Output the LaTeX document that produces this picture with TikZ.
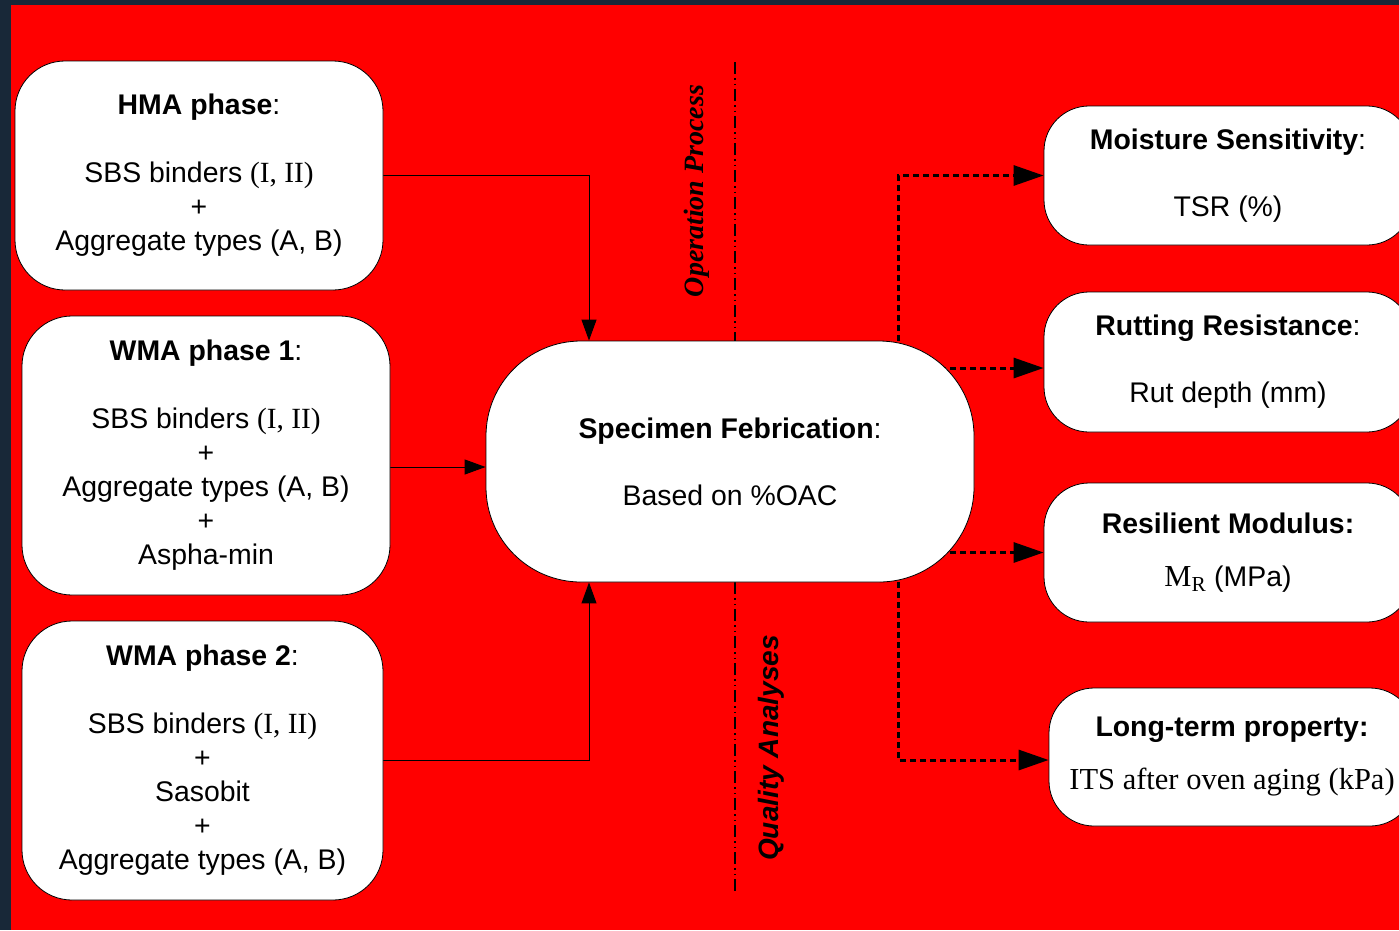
\documentclass[tikz,border=0pt]{standalone}
\usepackage{fontspec}
\setmainfont{Liberation Serif}
\setsansfont{Liberation Sans}
\usetikzlibrary{arrows.meta}
\pgfdeclarelayer{bg}
\pgfdeclarelayer{conn}
\pgfsetlayers{bg,conn,main}
\definecolor{navy}{RGB}{24,40,56}
\definecolor{bgred}{RGB}{255,0,0}
\newcommand{\srf}[1]{{\rmfamily\fontsize{29.3}{34}\selectfont #1}}
\begin{document}
\begin{tikzpicture}[x=1pt,y=-1pt,
  box/.style={draw=black,line width=0.8pt,fill=white,rounded corners=#1,inner sep=0pt,align=center,
    font=\sffamily\fontsize{28.4}{34}\selectfont},
  solidarr/.style={draw=black,line width=1pt,-{Triangle[length=21pt,width=15pt]}},
  dotarr/.style={draw=black,line width=3pt,dash pattern=on 6pt off 4pt,-{Triangle[length=30pt,width=20pt]}},
  dashdot/.style={draw=black,line width=2pt,dash pattern=on 12pt off 4pt on 1.5pt off 4pt on 1.5pt off 4pt},
  rot/.style={rotate=90,inner sep=0pt}
]
\useasboundingbox (0,0) rectangle (1399,930);
\begin{pgfonlayer}{bg}
\fill[navy] (0,0) rectangle (1399,930);
\fill[bgred] (11,5) rectangle (1399,930);
\end{pgfonlayer}

\node[box=50pt,minimum width=368pt,minimum height=229pt] (hma) at (199,175.5)
  {\textbf{HMA phase}:\\[34pt]SBS binders \srf{(I, II)}\\+\\Aggregate types (A, B)};
\node[box=50pt,minimum width=368pt,minimum height=279pt] (wma1) at (206,455.5)
  {\textbf{WMA phase 1}:\\[34pt]SBS binders \srf{(I, II)}\\+\\Aggregate types (A, B)\\+\\Aspha-min};
\node[box=50pt,minimum width=361pt,minimum height=279pt] (wma2) at (202.5,760.5)
  {\textbf{WMA phase 2}:\\[34pt]SBS binders \srf{(I, II)}\\+\\Sasobit\\+\\Aggregate types (A, B)};
\node[box=95pt,minimum width=488pt,minimum height=241pt] (center) at (730,461.5)
  {\textbf{Specimen Febrication}:\\[33pt]Based on \%OAC};
\node[box=45pt,minimum width=368pt,minimum height=139pt] (moist) at (1228,175.5)
  {\textbf{Moisture Sensitivity}:\\[33pt]TSR (\%)};
\node[box=45pt,minimum width=368pt,minimum height=140pt] (rut) at (1228,362)
  {\textbf{Rutting Resistance}:\\[33pt]Rut depth (mm)};
\node[box=45pt,minimum width=368pt,minimum height=139pt] (res) at (1228,552.5)
  {\textbf{Resilient Modulus:}\\[19pt]{\rmfamily\fontsize{30.5}{34}\selectfont M\textsubscript{R}} (MPa)};
\node[box=45pt,minimum width=366pt,minimum height=138pt] (long) at (1232,757)
  {\textbf{Long-term property:}\\[19pt]{\rmfamily\fontsize{30.5}{34}\selectfont ITS after oven aging (kPa)}};

\node[rot,font=\rmfamily\bfseries\itshape\fontsize{28}{34}\selectfont] (op) at (697,191) {Operation Process};
\node[rot,font=\sffamily\bfseries\itshape\fontsize{28}{34}\selectfont] (qa) at (771,748) {Quality Analyses};

\coordinate (dtop) at (735,62);
\coordinate (dbot) at (735,893);
\coordinate (cw) at ([yshift=-5.5pt]center.west);
\coordinate (rw) at ([yshift=-6pt]rut.west);
\coordinate (lw) at ([yshift=-3pt]long.west);

\begin{pgfonlayer}{conn}
\draw[dashdot] (dtop) -- (dtop |- center.north);
\draw[dashdot] (dbot |- center.south) -- (dbot);
\draw[solidarr] (hma.east) -| ([xshift=-141pt]center.north);
\draw[solidarr] (cw -| wma1.east) -- (cw);
\draw[solidarr] (wma2.east) -| ([xshift=-141pt]center.south);
\draw[dotarr] ([xshift=168pt]center.north) |- (moist.west);
\draw[dotarr] (center.center |- rw) -- (rw);
\draw[dotarr] (center.center |- res.west) -- (res.west);
\draw[dotarr] ([xshift=168pt]center.south) |- (lw);
\end{pgfonlayer}
\end{tikzpicture}
\end{document}
